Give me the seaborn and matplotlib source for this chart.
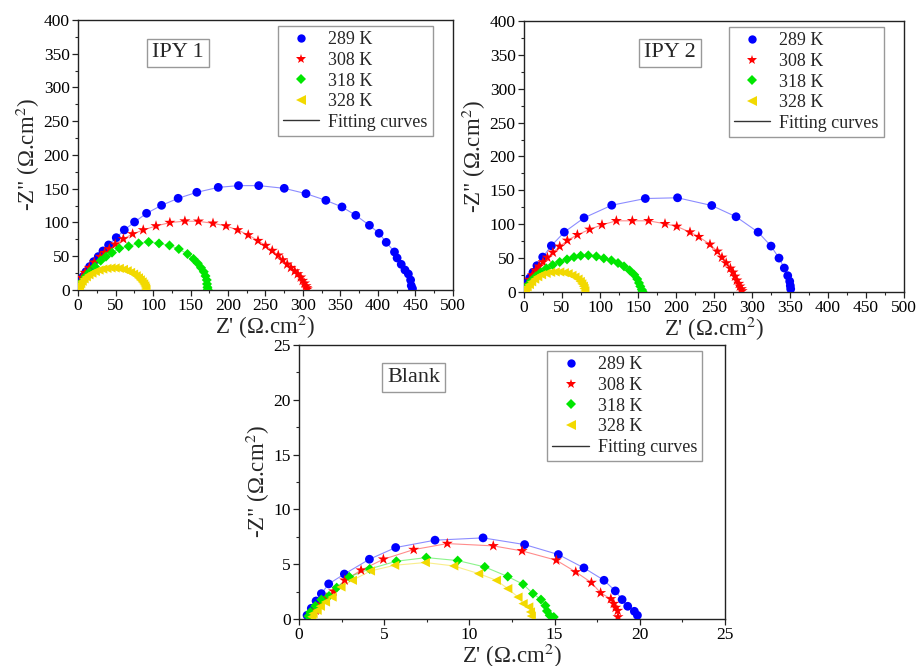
import matplotlib
matplotlib.use("Agg")
import matplotlib.pyplot as plt
from matplotlib.lines import Line2D
from matplotlib.ticker import MultipleLocator
import numpy as np
import pandas as pd
import seaborn as sns

temps = ["289 K", "308 K", "318 K", "328 K"]
colors = ["#0000ff", "#ff0000", "#00e600", "#f2d900"]
markers = ["o", "*", "D", "<"]
sizes = [40, 70, 26, 44]

# ---- IPY 1 (Z', -Z'') ----
ipy1_289_x = [0.4, 1.3, 3.1, 6.7, 10.6, 15.5, 20.9, 27, 33.3, 40.8, 51, 61.7, 75.4, 91.4, 111.4, 133.5,
              158.4, 187, 214, 241, 275, 304, 330.5, 352, 370.4, 388.6, 401.5, 411, 422, 425.5, 431,
              436, 440.5, 443.5, 444.4, 446]
ipy1_289_y = [1, 6, 12.3, 19.8, 27, 34.6, 42, 49.4, 57.8, 66.7, 77.5, 88.9, 100.7, 113.6, 125.4, 135.8,
              144.7, 152, 154.6, 154.6, 150.6, 142.7, 132.8, 123, 110.6, 95.8, 84, 70.6, 56.3, 47.4, 38,
              29.6, 23.7, 14.8, 6.4, 2]
ipy1_308_x = [0.4, 2.2, 4.9, 9.3, 15, 21.7, 29.7, 35.5, 41.7, 49.7, 60.4, 72.8, 87, 104, 122.5, 142.5,
              160.6, 180, 197.4, 213, 227, 240, 250, 259, 267, 273, 279, 284, 289, 293, 297, 299.5,
              302, 304, 305, 305.7]
ipy1_308_y = [4, 10.9, 18.3, 25.7, 33, 41, 49.4, 55.3, 60.7, 67.7, 75.6, 83, 88.9, 94.8, 99.8, 102,
              101.7, 98.8, 94.8, 88.9, 81.5, 73, 65.7, 58.3, 51.4, 44.4, 38, 33, 28, 23.7, 18.8, 13.8,
              9.9, 5.9, 3, 1]
ipy1_318_x = [0.9, 2.2, 5.3, 9.8, 15.5, 22.6, 30.2, 37.3, 45.3, 55, 67.5, 80.8, 94.2, 108, 122, 134.4,
              146, 154, 159.7, 164, 167.7, 170, 171.7, 172, 172.6, 173]
ipy1_318_y = [1, 6, 12.3, 19.8, 27, 34.6, 43.4, 49.4, 55.3, 61.7, 64.7, 69.1, 71.1, 69, 66, 60.7,
              53.3, 46, 39.5, 33, 27, 20.7, 14.8, 8.9, 4, 1]
ipy1_328_x = [1, 2, 3.5, 5.5, 8, 11, 14.5, 18.5, 23, 28, 33, 38.5, 44, 49.5, 55, 60.5, 65.5, 70, 74,
              77.5, 80.5, 83, 85.5, 87.5, 89, 90, 90.5]
ipy1_328_y = [1.5, 6, 9.5, 13, 16.5, 19.5, 22.5, 25, 27.5, 29.5, 31, 32, 32.6, 32.6, 32, 30.5, 28.5,
              26, 23.5, 21, 18, 15, 12, 9, 6, 3, 0.5]

# ---- IPY 2 ----
ipy2_289_x = [2.2, 4.4, 7.5, 11.8, 17, 24.6, 36, 53, 79, 115.4, 159.6, 202, 247, 279, 308, 325, 335.5,
              342.5, 347, 349.6, 350.4, 350.9]
ipy2_289_y = [7.4, 13.3, 20.6, 29, 38.8, 51.5, 68.2, 88.3, 109.4, 128, 137.9, 139, 127.6, 111, 88.3,
              67.7, 50, 35.3, 24, 15.7, 9.3, 4.4]
ipy2_308_x = [2.2, 4.4, 7.5, 11, 15.4, 19.7, 25, 30.7, 38, 47, 57, 70.2, 86.4, 102.6, 121.5, 142.5, 164,
              185.5, 201, 218.4, 230, 244.7, 254.4, 260.5, 266, 271.5, 275, 277.6, 280, 282.5, 284,
              286, 287]
ipy2_308_y = [4.9, 10.8, 18.2, 25, 31.9, 37.8, 44.2, 51, 58.4, 67.2, 76, 84.4, 92.3, 99.1, 105, 105,
              105, 100.6, 96.7, 88.3, 81.5, 70.2, 59.9, 51, 42.7, 34.8, 29, 23, 17.2, 12.3, 8.3, 4.4, 1.5]
ipy2_318_x = [2.2, 5.3, 9.6, 15.4, 22, 29.4, 37.7, 47, 56.6, 65.8, 74.6, 84.6, 95.2, 105, 115, 123.7,
              131.6, 139, 145, 149, 151.3, 153, 155, 156]
ipy2_318_y = [4.4, 10.3, 16.7, 23, 29, 34.8, 39.8, 44.2, 48.1, 51.5, 53.5, 54, 52.5, 49.6, 46.6, 42.7,
              37.8, 31.9, 25.5, 19.1, 13.3, 8.3, 3.4, 1]
ipy2_328_x = [1, 2, 4, 7, 10, 14, 18, 23, 29, 35, 41, 47, 53, 58, 63, 67, 71, 74, 76, 78, 79, 80]
ipy2_328_y = [1.5, 4, 7.5, 11, 15, 19, 22.5, 25.5, 27.5, 29, 29.5, 29.5, 28.5, 27, 24.5, 22, 19, 15.5,
              12, 8.5, 5, 1.5]

# ---- Blank ----
blank_289_x = [0.47, 0.72, 1.0, 1.31, 1.74, 2.66, 4.13, 5.67, 7.98, 10.8, 13.24, 15.22, 16.72, 17.9,
               18.56, 18.96, 19.29, 19.68, 19.86]
blank_289_y = [0.33, 0.97, 1.64, 2.31, 3.2, 4.1, 5.45, 6.52, 7.19, 7.4, 6.79, 5.88, 4.66, 3.53, 2.56,
               1.77, 1.16, 0.7, 0.33]
blank_308_x = [0.75, 0.98, 1.25, 1.6, 2.03, 2.68, 3.64, 4.95, 6.73, 8.7, 11.4, 13.09, 15.1, 16.24,
               17.16, 17.7, 18.3, 18.47, 18.58, 18.7, 18.72]
blank_308_y = [0.3, 0.79, 1.34, 1.92, 2.53, 3.53, 4.45, 5.45, 6.33, 6.88, 6.67, 6.21, 5.36, 4.29, 3.32,
               2.38, 1.83, 1.4, 1.04, 0.76, 0.18]
blank_318_x = [0.55, 0.67, 0.96, 1.31, 1.76, 2.21, 2.95, 4.15, 5.71, 7.47, 9.31, 10.9, 12.25, 13.15,
               13.73, 14.2, 14.46, 14.55, 14.71, 14.95]
blank_318_y = [0.25, 0.64, 1.19, 1.77, 2.1, 2.86, 3.84, 4.57, 5.27, 5.6, 5.33, 4.75, 3.87, 3.17, 2.31,
               1.77, 1.22, 0.73, 0.33, 0.18]
blank_328_x = [0.75, 0.82, 1.06, 1.25, 1.55, 1.94, 2.46, 3.13, 4.19, 5.61, 7.41, 9.08, 10.54, 11.58,
               12.25, 12.85, 13.15, 13.48, 13.58, 13.63]
blank_328_y = [0.2, 0.49, 0.79, 1.16, 1.55, 2.0, 2.92, 3.53, 4.38, 4.9, 5.15, 4.84, 4.14, 3.53, 2.77,
               2.0, 1.4, 1.1, 0.64, 0.27]


def to_frame(xs, ys):
    frames = [pd.DataFrame({"x": x, "y": y, "T": t}) for x, y, t in zip(xs, ys, temps)]
    return pd.concat(frames, ignore_index=True)


ipy1 = to_frame([ipy1_289_x, ipy1_308_x, ipy1_318_x, ipy1_328_x],
                [ipy1_289_y, ipy1_308_y, ipy1_318_y, ipy1_328_y])
ipy2 = to_frame([ipy2_289_x, ipy2_308_x, ipy2_318_x, ipy2_328_x],
                [ipy2_289_y, ipy2_308_y, ipy2_318_y, ipy2_328_y])
blank = to_frame([blank_289_x, blank_308_x, blank_318_x, blank_328_x],
                 [blank_289_y, blank_308_y, blank_318_y, blank_328_y])

sns.set_theme(style="ticks")
plt.rcParams["font.family"] = ["Liberation Serif", "DejaVu Serif"]
plt.rcParams["mathtext.fontset"] = "stix"

palette = dict(zip(temps, colors))
marker_map = dict(zip(temps, markers))


def draw_panel(ax, df, title, xmax, ymax, major, minor, title_xy):
    # fitting curves: thin translucent lines through the points
    sns.lineplot(data=df, x="x", y="y", hue="T", palette=palette, sort=False, estimator=None,
                 linewidth=0.8, alpha=0.45, legend=False, ax=ax)
    for t, s in zip(temps, sizes):
        sub = df[df["T"] == t]
        sns.scatterplot(data=sub, x="x", y="y", color=palette[t], marker=marker_map[t], s=s,
                        edgecolor="none", legend=False, ax=ax, zorder=3)

    ax.set_xlim(0, xmax)
    ax.set_ylim(0, ymax)
    ax.xaxis.set_major_locator(MultipleLocator(major))
    ax.yaxis.set_major_locator(MultipleLocator(major))
    ax.xaxis.set_minor_locator(MultipleLocator(minor))
    ax.yaxis.set_minor_locator(MultipleLocator(minor))
    ax.tick_params(which="major", direction="out", length=4, width=0.9, labelsize=12.5, pad=2,
                   colors="#222222", labelcolor="black")
    ax.tick_params(which="minor", direction="out", length=2.5, width=0.8)
    for sp in ax.spines.values():
        sp.set_visible(True)
        sp.set_linewidth(1.0)
        sp.set_color("#222222")

    ax.set_xlabel("Z' (Ω.cm$^{2}$)", fontsize=16.5, labelpad=-1)
    ax.set_ylabel('-Z" (Ω.cm$^{2}$)', fontsize=16.5, labelpad=1)

    ax.text(title_xy[0], title_xy[1], title, transform=ax.transAxes, fontsize=16,
            ha="center", va="center",
            bbox=dict(boxstyle="square,pad=0.22", facecolor="white", edgecolor="#999999", linewidth=1))

    handles = [Line2D([], [], linestyle="None", marker=m, color=c, markersize=ms, markeredgewidth=0)
               for m, c, ms in zip(markers, colors, [6, 7.5, 5, 6.5])]
    handles.append(Line2D([], [], color="#333333", linewidth=1))
    labels = temps + ["Fitting curves"]
    leg = ax.legend(handles, labels, loc="upper right", bbox_to_anchor=(0.947, 0.978),
                    borderaxespad=0, fontsize=13, frameon=True, fancybox=False,
                    edgecolor="#999999", framealpha=1, handlelength=2.0, handletextpad=0.5,
                    labelspacing=0.2, borderpad=0.3)
    leg.get_frame().set_linewidth(1.0)


fig = plt.figure(figsize=(9.19, 6.66), dpi=100)
ax1 = fig.add_axes([0.0849, 0.5646, 0.408, 0.4054])
ax2 = fig.add_axes([0.5702, 0.5616, 0.4135, 0.407])
ax3 = fig.add_axes([0.3254, 0.0706, 0.4635, 0.4114])

draw_panel(ax1, ipy1, "IPY 1", 500, 400, 50, 25, (0.267, 0.878))
draw_panel(ax2, ipy2, "IPY 2", 500, 400, 50, 25, (0.384, 0.882))
draw_panel(ax3, blank, "Blank", 25, 25, 5, 2.5, (0.269, 0.881))

fig.savefig("out.png", dpi=100)
